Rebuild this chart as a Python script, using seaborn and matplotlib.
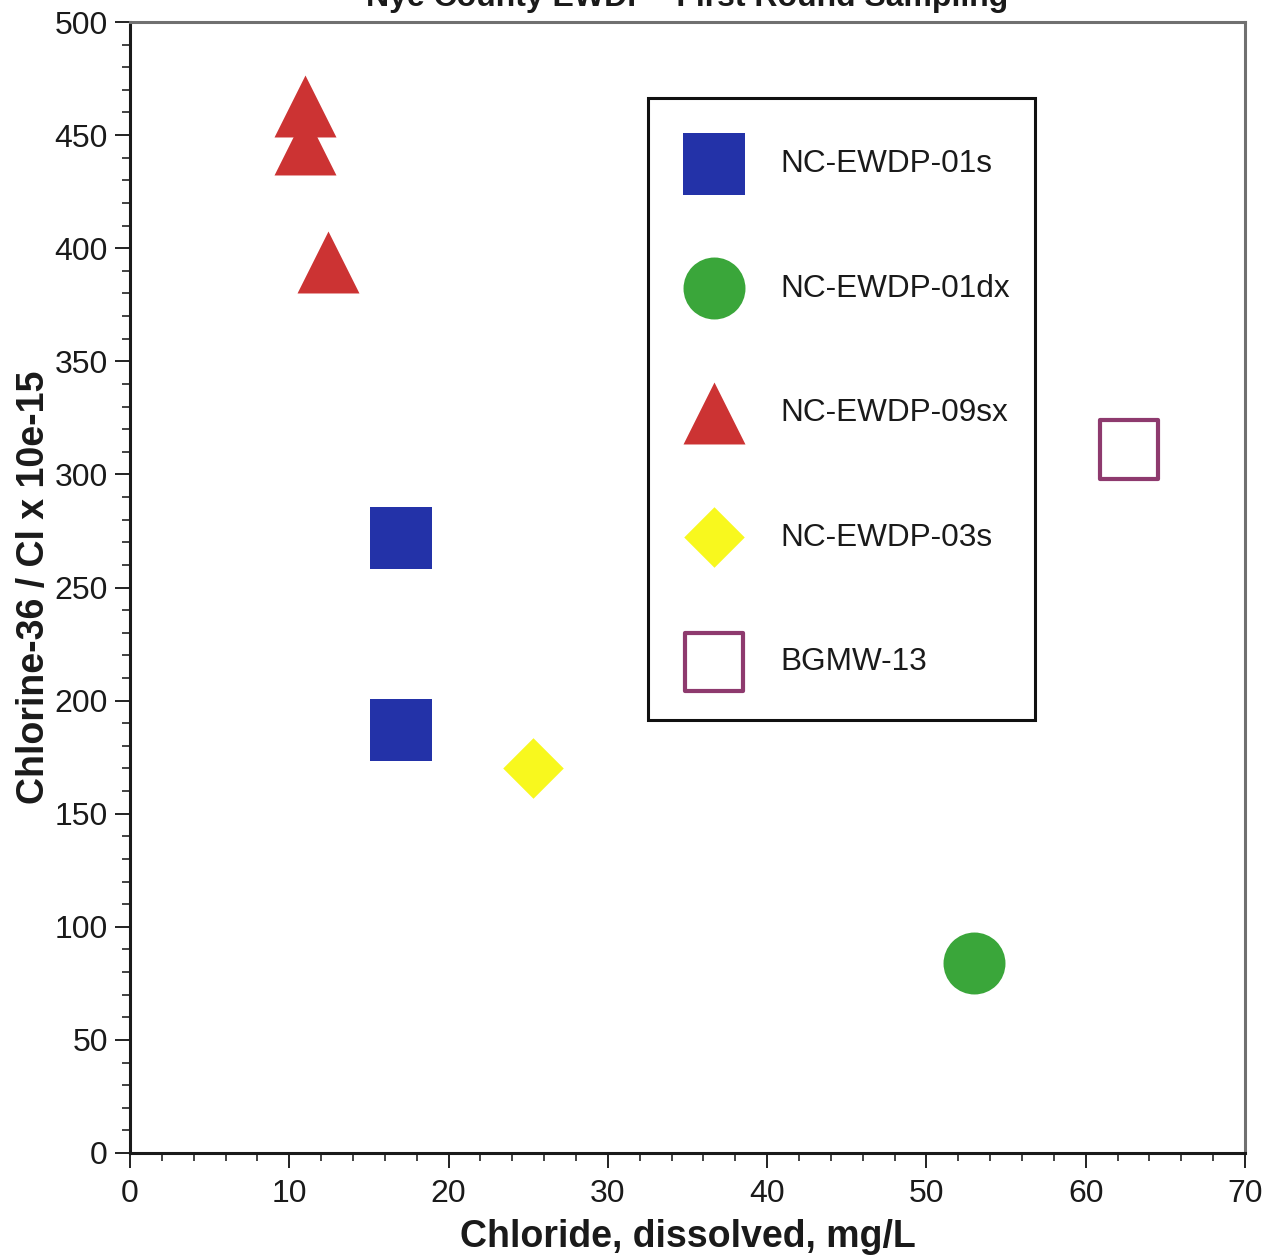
import matplotlib
matplotlib.use("Agg")
import matplotlib.pyplot as plt
import seaborn as sns
from matplotlib.ticker import MultipleLocator
from matplotlib.patches import Rectangle

# ---- data ----
s01_x = [17.0, 17.0]
s01_y = [272, 187]
d01_x = [53.0]
d01_y = [84]
s09_x = [11.0, 11.0, 12.4]
s09_y = [463, 446, 394]
s03_x = [25.3]
s03_y = [170]
bg_x = [62.7]
bg_y = [311]

labels = ["NC-EWDP-01s", "NC-EWDP-01dx", "NC-EWDP-09sx", "NC-EWDP-03s", "BGMW-13"]
title = "Nye County EWDP - First Round Sampling"
xlabel = "Chloride, dissolved, mg/L"
ylabel = "Chlorine-36 / Cl x 10e-15"

sns.set_theme(style="ticks")
plt.rcParams['font.family'] = ['Liberation Sans', 'DejaVu Sans']

W, H = 1264, 1259
fig = plt.figure(figsize=(W/100, H/100), dpi=100)
AX_L, AX_R, AX_T, AX_B = 130, 1245, 22, 1153
ax = fig.add_axes([AX_L/W, 1 - AX_B/H, (AX_R-AX_L)/W, (AX_B-AX_T)/H])

def ax_x(px):
    return (px - AX_L) / (AX_R - AX_L)

def ax_y(py):
    return (AX_B - py) / (AX_B - AX_T)

S = 1990
sns.scatterplot(x=s01_x, y=s01_y, marker='s', s=S, color='#2332A8', linewidth=0, label=labels[0], ax=ax)
sns.scatterplot(x=d01_x, y=d01_y, marker='o', s=S, color='#3AA63A', linewidth=0, label=labels[1], ax=ax)
sns.scatterplot(x=s09_x, y=s09_y, marker='^', s=S, color='#CC3333', linewidth=0, label=labels[2], ax=ax)
sns.scatterplot(x=s03_x, y=s03_y, marker='D', s=950, color='#F8F81E', linewidth=0, label=labels[3], ax=ax)
sns.scatterplot(x=bg_x, y=bg_y, marker='s', s=1750, color='#8E3A6E', facecolor='none',
                edgecolor='#8E3A6E', linewidth=3, label=labels[4], ax=ax)

ax.set_xlim(0, 70)
ax.set_ylim(0, 500)
ax.xaxis.set_major_locator(MultipleLocator(10))
ax.xaxis.set_minor_locator(MultipleLocator(2))
ax.yaxis.set_major_locator(MultipleLocator(50))
ax.yaxis.set_minor_locator(MultipleLocator(10))
ax.tick_params(which='major', direction='out', length=11, width=1.4, labelsize=23, color='#222222',
               labelcolor='#1a1a1a', pad=5, top=False, right=False)
ax.tick_params(axis='x', which='major', pad=8)
ax.tick_params(which='minor', direction='out', length=6, width=1.2, color='#222222', top=False, right=False)

for side in ['left', 'bottom']:
    ax.spines[side].set_color('#1a1a1a')
    ax.spines[side].set_linewidth(2.2)
for side in ['top', 'right']:
    ax.spines[side].set_color('#707070')
    ax.spines[side].set_linewidth(2.2)
    ax.spines[side].set_visible(True)

ax.set_xlabel(xlabel, fontsize=27, fontweight='bold', color='#1a1a1a', labelpad=7)
ax.set_ylabel(ylabel, fontsize=27, fontweight='bold', color='#1a1a1a', labelpad=2)

fig.text((AX_L+AX_R)/2/W, 1 - 6/H, title, ha='center', va='baseline',
         fontsize=23, fontweight='bold', color='#1a1a1a')

# legend frame box
ax.add_patch(Rectangle((ax_x(648), ax_y(720)), ax_x(1035) - ax_x(648), ax_y(98) - ax_y(720),
                       transform=ax.transAxes, facecolor='white', edgecolor='#111111',
                       linewidth=2.2, zorder=4.5, clip_on=False))

FS = 22.7
fs_px = FS * 100 / 72
hl = 1.0
anchor_x = 714 - hl * fs_px / 2
leg = ax.legend(loc='upper left', bbox_to_anchor=(ax_x(anchor_x), ax_y(164 - 15)),
                borderaxespad=0, fontsize=FS, frameon=False,
                borderpad=0, handlelength=hl, handletextpad=(780 - 714 - hl * fs_px / 2) / fs_px,
                handleheight=0.7, labelspacing=3.0, scatterpoints=1)
leg.set_zorder(5)
for t in leg.get_texts():
    t.set_color('#1a1a1a')

fig.savefig("out.png", dpi=100)
